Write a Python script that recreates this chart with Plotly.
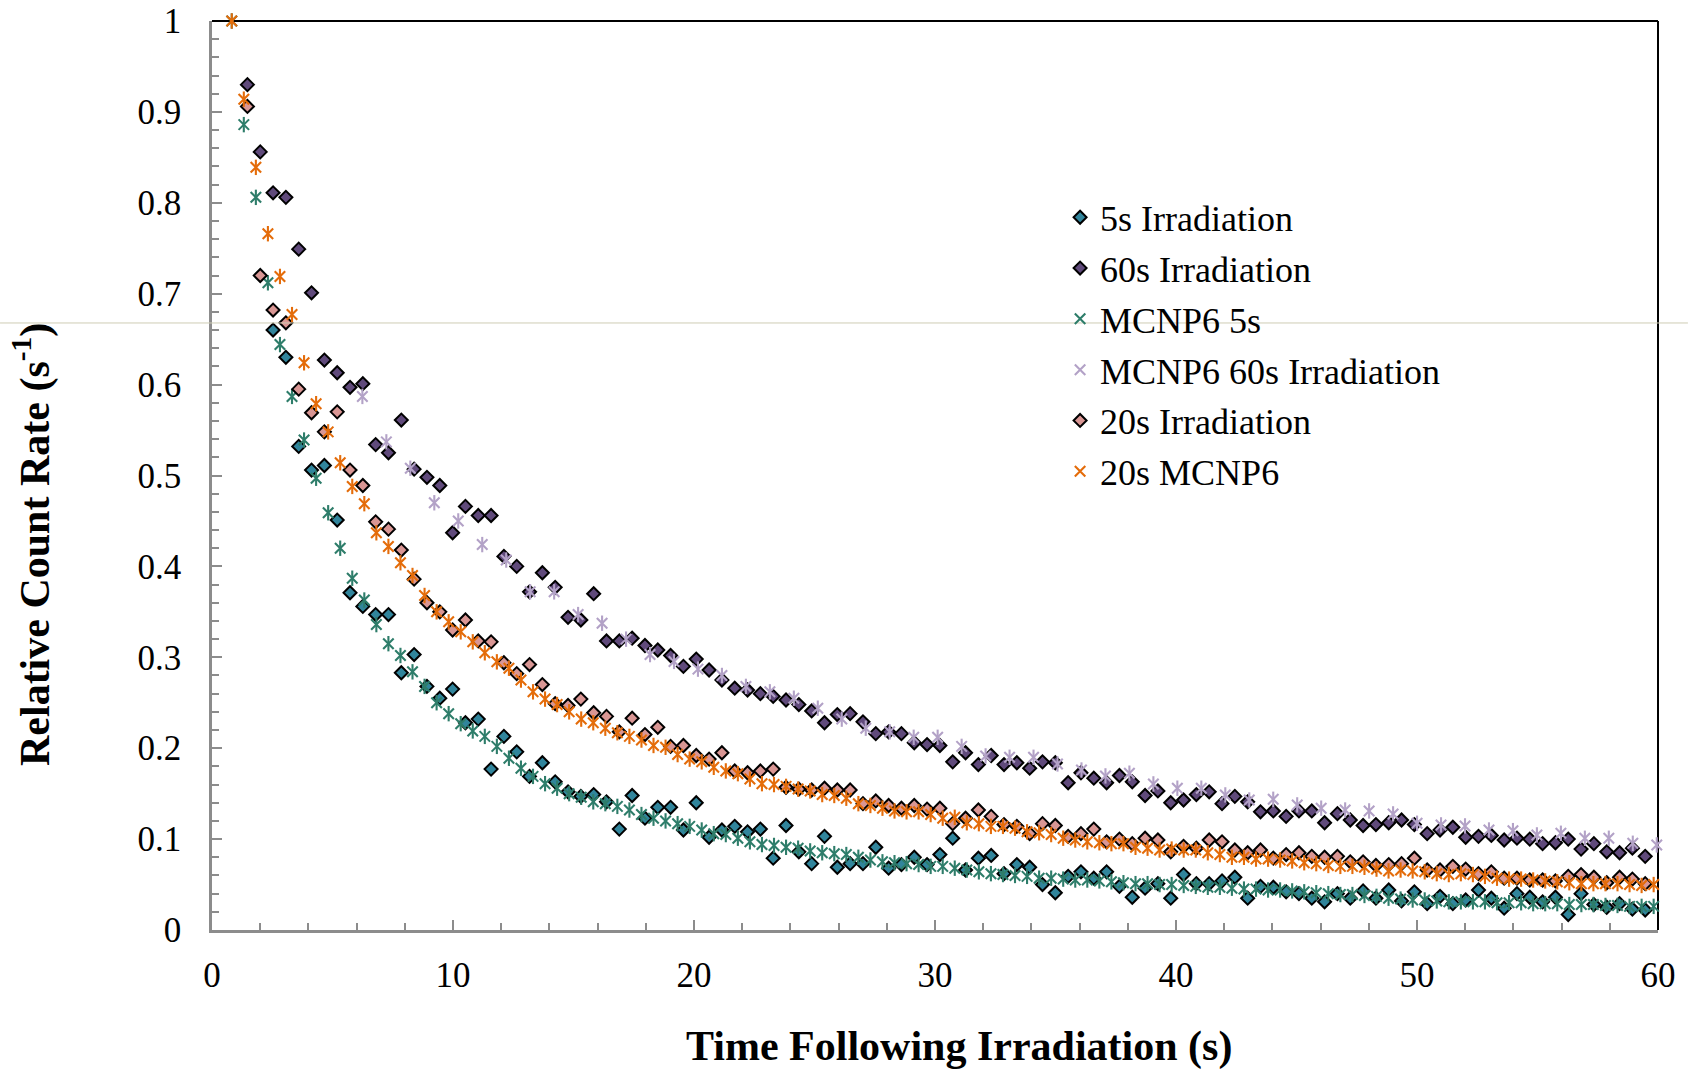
import plotly.graph_objects as go

# ---------------- data ----------------
# MCNP6 time grid (0.5 s bins) and experimental time grid (~0.53 s bins)
t_mcnp = [round(0.82 + 0.5 * k, 3) for k in range(119)]
t_exp = [round(1.47 + 0.5321 * k, 3) for k in range(111)]
t_mcnp60 = [round(6.24 + 0.9946 * k, 3) for k in range(55)]

exp_5s = [None, None, 0.660, 0.630, 0.532, 0.506, 0.511, 0.451, 0.371, 0.356,
          0.347, 0.347, 0.283, 0.303, 0.268, 0.255, 0.265, 0.228, 0.232, 0.177,
          0.213, 0.196, 0.169, 0.184, 0.163, 0.152, 0.147, 0.149, 0.141, 0.111,
          0.148, 0.123, 0.135, 0.135, 0.110, 0.140, 0.102, 0.110, 0.114, 0.108,
          0.111, 0.079, 0.115, 0.086, 0.073, 0.103, 0.069, 0.073, 0.073, 0.091,
          0.068, 0.072, 0.080, 0.072, 0.083, 0.101, 0.066, 0.079, 0.082, 0.062,
          0.072, 0.069, 0.050, 0.041, 0.059, 0.064, 0.057, 0.064, 0.048, 0.036,
          0.046, 0.051, 0.035, 0.061, 0.051, 0.051, 0.054, 0.058, 0.035, 0.048,
          0.047, 0.042, 0.040, 0.035, 0.031, 0.040, 0.035, 0.043, 0.035, 0.044,
          0.032, 0.042, 0.029, 0.037, 0.029, 0.033, 0.044, 0.035, 0.024, 0.040,
          0.036, 0.031, 0.036, 0.017, 0.040, 0.028, 0.025, 0.029, 0.023, 0.022, 0.028]

exp_60s = [0.930, 0.856, 0.811, 0.806, 0.749, 0.701, 0.627, 0.613, 0.597, 0.601,
           0.534, 0.525, 0.561, 0.507, 0.498, 0.489, 0.437, 0.466, 0.456, 0.456,
           0.411, 0.400, 0.372, 0.393, 0.377, 0.344, 0.341, 0.370, 0.318, 0.318,
           0.321, 0.313, 0.308, 0.302, 0.290, 0.298, 0.286, 0.275, 0.266, 0.264,
           0.260, 0.257, 0.253, 0.248, 0.241, 0.228, 0.237, 0.238, 0.229, 0.216,
           0.218, 0.216, 0.206, 0.204, 0.203, 0.185, 0.195, 0.182, 0.192, 0.182,
           0.184, 0.178, 0.185, 0.184, 0.162, 0.173, 0.167, 0.162, 0.170, 0.163,
           0.148, 0.153, 0.140, 0.143, 0.149, 0.152, 0.139, 0.147, 0.141, 0.130,
           0.131, 0.125, 0.131, 0.131, 0.118, 0.128, 0.121, 0.115, 0.116, 0.118,
           0.121, 0.116, 0.106, 0.110, 0.113, 0.102, 0.103, 0.104, 0.099, 0.101,
           0.100, 0.095, 0.096, 0.100, 0.089, 0.095, 0.086, 0.085, 0.090, 0.081, 0.083]

exp_20s = [0.906, 0.720, 0.682, 0.668, 0.595, 0.569, 0.548, 0.570, 0.506, 0.489,
           0.449, 0.441, 0.418, 0.386, 0.360, 0.350, 0.330, 0.341, 0.318, 0.317,
           0.294, 0.282, 0.292, 0.270, 0.249, 0.247, 0.254, 0.239, 0.235, 0.218,
           0.233, 0.215, 0.223, 0.202, 0.203, 0.192, 0.188, 0.195, 0.175, 0.173,
           0.175, 0.177, 0.157, 0.155, 0.154, 0.156, 0.154, 0.154, 0.139, 0.142,
           0.137, 0.134, 0.137, 0.133, 0.134, 0.117, 0.123, 0.132, 0.125, 0.116,
           0.114, 0.106, 0.117, 0.115, 0.103, 0.106, 0.111, 0.097, 0.100, 0.095,
           0.101, 0.099, 0.086, 0.092, 0.090, 0.099, 0.097, 0.088, 0.085, 0.088,
           0.079, 0.083, 0.085, 0.081, 0.080, 0.081, 0.075, 0.075, 0.071, 0.072,
           0.073, 0.079, 0.066, 0.066, 0.070, 0.067, 0.062, 0.064, 0.057, 0.057,
           0.055, 0.055, 0.054, 0.059, 0.061, 0.058, 0.052, 0.058, 0.056, 0.051, 0.050]

mcnp_5s = [1.000, 0.886, 0.806, 0.712, 0.644, 0.587, 0.539, 0.497, 0.459, 0.420,
           0.387, 0.363, 0.336, 0.315, 0.302, 0.284, 0.268, 0.250, 0.238, 0.227,
           0.219, 0.213, 0.202, 0.189, 0.178, 0.169, 0.161, 0.156, 0.150, 0.146,
           0.141, 0.139, 0.136, 0.132, 0.127, 0.123, 0.120, 0.117, 0.114, 0.110,
           0.106, 0.105, 0.101, 0.097, 0.094, 0.093, 0.091, 0.090, 0.087, 0.085,
           0.084, 0.083, 0.080, 0.077, 0.075, 0.074, 0.073, 0.072, 0.070, 0.070,
           0.068, 0.066, 0.064, 0.062, 0.061, 0.060, 0.059, 0.057, 0.057, 0.056,
           0.055, 0.055, 0.054, 0.053, 0.052, 0.051, 0.051, 0.050, 0.050, 0.049,
           0.048, 0.047, 0.047, 0.046, 0.045, 0.045, 0.044, 0.044, 0.043, 0.042,
           0.041, 0.040, 0.039, 0.039, 0.038, 0.037, 0.035, 0.034, 0.033, 0.033,
           0.032, 0.031, 0.031, 0.031, 0.031, 0.030, 0.030, 0.030, 0.029, 0.029,
           0.029, 0.028, 0.028, 0.028, 0.027, 0.027, 0.026, 0.026, 0.026]

mcnp_60s = [0.587, 0.537, 0.508, 0.470, 0.450, 0.424, 0.407, 0.372, 0.372, 0.347,
            0.3375, 0.320, 0.303, 0.2955, 0.287, 0.280, 0.268, 0.262, 0.255, 0.244,
            0.232, 0.222, 0.218, 0.212, 0.212, 0.202, 0.1915, 0.190, 0.190, 0.1827,
            0.176, 0.1695, 0.1725, 0.1607, 0.156, 0.156, 0.1486, 0.143, 0.1438, 0.1376,
            0.134, 0.132, 0.131, 0.1277, 0.1174, 0.1156, 0.1145, 0.110, 0.1093, 0.1046,
            0.1064, 0.1009, 0.1009, 0.0954, 0.0936]

mcnp_20s = [1.000, 0.914, 0.839, 0.766, 0.719, 0.677, 0.624, 0.579, 0.548, 0.514,
            0.488, 0.469, 0.437, 0.422, 0.404, 0.390, 0.368, 0.350, 0.339, 0.328,
            0.317, 0.305, 0.295, 0.288, 0.275, 0.262, 0.254, 0.248, 0.240, 0.232,
            0.228, 0.222, 0.217, 0.213, 0.209, 0.203, 0.201, 0.193, 0.188, 0.185,
            0.179, 0.175, 0.172, 0.166, 0.161, 0.160, 0.158, 0.155, 0.153, 0.149,
            0.148, 0.145, 0.139, 0.137, 0.134, 0.131, 0.130, 0.130, 0.127, 0.123,
            0.124, 0.118, 0.117, 0.114, 0.114, 0.112, 0.108, 0.107, 0.105, 0.101,
            0.099, 0.097, 0.096, 0.095, 0.095, 0.091, 0.090, 0.088, 0.089, 0.088,
            0.088, 0.085, 0.083, 0.080, 0.080, 0.078, 0.078, 0.077, 0.076, 0.074,
            0.073, 0.071, 0.070, 0.070, 0.069, 0.067, 0.065, 0.066, 0.065, 0.064,
            0.062, 0.061, 0.062, 0.061, 0.059, 0.057, 0.056, 0.056, 0.055, 0.054,
            0.053, 0.052, 0.051, 0.051, 0.051, 0.051, 0.050, 0.049, 0.050]

x_ticks = [0, 10, 20, 30, 40, 50, 60]
y_ticks = [0, 0.1, 0.2, 0.3, 0.4, 0.5, 0.6, 0.7, 0.8, 0.9, 1]
y_tick_text = ["0", "0.1", "0.2", "0.3", "0.4", "0.5", "0.6", "0.7", "0.8", "0.9", "1"]

# ---------------- styles ----------------
FONT = "Liberation Serif"
C_5S = "#31859C"
C_60S = "#604A7B"
C_20S = "#D99694"
C_M5 = "#2E7D6A"
C_M60 = "#B3A2C7"
C_M20 = "#E46C0A"

fig = go.Figure()


def add_diamonds(name, t, y, color):
    fig.add_trace(go.Scatter(
        x=t, y=y, mode="markers", name=name, legendgroup=name,
        cliponaxis=False,
        marker=dict(symbol="diamond", size=10, color=color,
                    line=dict(color="black", width=2)),
    ))


def add_stars(name, t, y, color):
    # Excel-like six-armed star: an "x" plus a vertical stroke
    fig.add_trace(go.Scatter(
        x=t, y=y, mode="markers", name=name, legendgroup=name,
        cliponaxis=False,
        marker=dict(symbol="x-thin-open", size=10.5, color=color,
                    line=dict(color=color, width=2.1)),
    ))
    fig.add_trace(go.Scatter(
        x=t, y=y, mode="markers", name=name, legendgroup=name,
        showlegend=False, cliponaxis=False, hoverinfo="skip",
        marker=dict(symbol="line-ns-open", size=11, color=color,
                    line=dict(color=color, width=2.1)),
    ))


add_diamonds("5s Irradiation", t_exp, exp_5s, C_5S)
add_diamonds("60s Irradiation", t_exp, exp_60s, C_60S)
add_stars("MCNP6 5s", t_mcnp, mcnp_5s, C_M5)
add_stars("MCNP6 60s Irradiation", t_mcnp60, mcnp_60s, C_M60)
add_diamonds("20s Irradiation", t_exp, exp_20s, C_20S)
add_stars("20s MCNP6", t_mcnp, mcnp_20s, C_M20)

AX_GRAY = "#8C8C8C"
axis_common = dict(
    showgrid=False, zeroline=False, showline=True, linecolor=AX_GRAY,
    linewidth=2.5, ticks="inside", tickcolor=AX_GRAY, tickwidth=2,
    ticklen=10, automargin=False,
    tickfont=dict(family=FONT, size=35, color="black"),
)

fig.update_xaxes(
    range=[0, 60], tickmode="array", tickvals=x_ticks,
    ticktext=[str(v) for v in x_ticks], ticklabelstandoff=12,
    minor=dict(dtick=2, tick0=0, ticks="inside", ticklen=7,
               tickcolor=AX_GRAY, tickwidth=2),
    **axis_common,
)
fig.update_yaxes(
    range=[0, 1], tickmode="array", tickvals=y_ticks,
    ticktext=y_tick_text, ticklabelstandoff=21,
    minor=dict(dtick=0.02, tick0=0, ticks="inside", ticklen=7,
               tickcolor=AX_GRAY, tickwidth=2),
    **axis_common,
)

fig.update_layout(
    width=1688, height=1072,
    margin=dict(l=212, r=30, t=21, b=142),
    paper_bgcolor="white", plot_bgcolor="white",
    font=dict(family=FONT, color="black"),
    showlegend=True,
    legend=dict(
        x=0.5865, y=0.817, xanchor="left", yanchor="top",
        font=dict(family=FONT, size=36, color="black"),
        bgcolor="rgba(0,0,0,0)", traceorder="grouped",
        tracegroupgap=1, itemwidth=30,
    ),
    annotations=[
        dict(text="<b>Relative Count Rate (s<sup>-1</sup>)</b>",
             xref="paper", yref="paper", x=-0.1245, y=0.4246,
             xanchor="center", yanchor="middle", textangle=-90,
             showarrow=False, font=dict(family=FONT, size=42, color="black")),
        dict(text="<b>Time Following Irradiation (s)</b>",
             xref="paper", yref="paper", x=0.5166, y=-0.1287,
             xanchor="center", yanchor="middle",
             showarrow=False, font=dict(family=FONT, size=42, color="black")),
    ],
    shapes=[
        dict(type="line", xref="paper", yref="paper", x0=0, x1=1, y0=1, y1=1,
             line=dict(color="black", width=2), layer="below"),
        dict(type="line", xref="paper", yref="paper", x0=1, x1=1, y0=0, y1=1,
             line=dict(color="black", width=2), layer="below"),
        dict(type="line", xref="paper", yref="paper", x0=-0.1466, x1=1.0207,
             y0=0.6678, y1=0.6678, line=dict(color="#CFCDB4", width=1),
             layer="above"),
    ],
)

fig.write_html("out.html")
